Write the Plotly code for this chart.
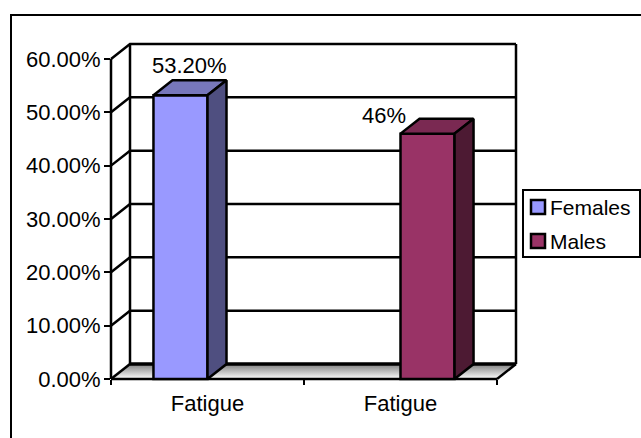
import plotly.graph_objects as go

categories = ["Fatigue", "Fatigue"]
series_names = ["Females", "Males"]
females = [53.2, None]
males = [None, 46.0]
female_labels = ["53.20%", ""]
male_labels = ["", "46%"]
y_ticks = [0, 10, 20, 30, 40, 50, 60]
y_tick_labels = ["0.00%", "10.00%", "20.00%", "30.00%", "40.00%", "50.00%", "60.00%"]

FEMALE_COLOR = "#9999FF"
MALE_COLOR = "#993366"

DX = 19 / 193
DY = 15 / 53.5 * 10
BAR_W = 0.28
FONT = "Liberation Sans, Arial, sans-serif"
FS = 22
LW = 2.5
X0, X1 = -0.5, 1.5
YMAX = y_ticks[-1]

L, R, T, B = 111, 516, 44, 379
W, H = 641, 438
PAD = 6  # room so that lines on the plot edge are not clipped
L0, R0, T0, B0 = L - PAD, R + PAD, T - PAD, B + PAD
px_x = lambda p: (p - L0) / (R0 - L0)
px_y = lambda p: (B0 - p) / (B0 - T0)

xrange_ = [X0, X1 + DX]
yrange_ = [0, YMAX + DY]
ux = (xrange_[1] - xrange_[0]) / (R - L) * PAD
uy = (yrange_[1] - yrange_[0]) / (B - T) * PAD
xpad = [xrange_[0] - ux, xrange_[1] + ux]
ypad = [yrange_[0] - uy, yrange_[1] + uy]

fig = go.Figure()

# carrier for the tick-bearing axes
fig.add_trace(go.Scatter(x=[0, 1], y=y_ticks[:2], mode="markers", marker=dict(opacity=0), showlegend=False,
                         hoverinfo="skip"))


def line(xs, ys, width=LW):
    fig.add_trace(go.Scatter(x=xs, y=ys, mode="lines", line=dict(color="black", width=width),
                             showlegend=False, hoverinfo="skip", cliponaxis=False, xaxis="x2", yaxis="y2"))


# floor with gradient
fig.add_trace(go.Scatter(x=[X0, X1, X1 + DX, X0 + DX, X0], y=[0, 0, DY, DY, 0], mode="none",
                         fill="toself", showlegend=False, hoverinfo="skip", xaxis="x2", yaxis="y2",
                         fillgradient=dict(type="vertical",
                                           colorscale=[[0, "#ffffff"], [1, "#7f7f7f"]])))
# gridlines: side wall and back wall
for t in y_ticks[1:]:
    line([X0, X0 + DX, X1 + DX], [t, t + DY, t + DY])
# walls and floor outline
line([X0 + DX, X0 + DX], [DY, YMAX + DY])
line([X1 + DX, X1 + DX], [DY, YMAX + DY])
line([X0 + DX, X1 + DX], [DY, DY], width=3.5)
line([X0, X0 + DX], [0, DY])
line([X1, X1 + DX], [0, DY])
line([X0, X1], [0, 0])
line([X0, X0], [0, YMAX])

# front faces
fig.add_trace(go.Bar(name=series_names[0], x=[0, 1], y=females,
                     marker=dict(color=FEMALE_COLOR, line=dict(color="black", width=LW)),
                     xaxis="x3", yaxis="y3", showlegend=False, hoverinfo="skip"))
fig.add_trace(go.Bar(name=series_names[1], x=[0, 1], y=males,
                     marker=dict(color=MALE_COLOR, line=dict(color="black", width=LW)),
                     xaxis="x3", yaxis="y3", showlegend=False, hoverinfo="skip"))


def depth(x_left, value, top, side):
    x_right = x_left + BAR_W
    fig.add_trace(go.Scatter(x=[x_left, x_right, x_right + DX, x_left + DX, x_left],
                             y=[value, value, value + DY, value + DY, value],
                             mode="lines", fill="toself", fillcolor=top, line=dict(color="black", width=LW),
                             showlegend=False, hoverinfo="skip", xaxis="x3", yaxis="y3"))
    fig.add_trace(go.Scatter(x=[x_right, x_right + DX, x_right + DX, x_right, x_right],
                             y=[0, DY, value + DY, value, 0],
                             mode="lines", fill="toself", fillcolor=side, line=dict(color="black", width=LW),
                             showlegend=False, hoverinfo="skip", xaxis="x3", yaxis="y3"))


depth(0 - BAR_W, females[0], "#7777BB", "#4F4F80")
depth(1, males[1], "#7A2952", "#4D1A33")

# data labels
fig.add_annotation(x=0 - BAR_W / 2, y=females[0], xref="x3", yref="y3", text=female_labels[0], showarrow=False,
                   xshift=9, yshift=30, font=dict(family=FONT, size=FS, color="black"))
fig.add_annotation(x=1 + BAR_W / 2, y=males[1], xref="x3", yref="y3", text=male_labels[1], showarrow=False,
                   xshift=-44, yshift=18, font=dict(family=FONT, size=FS, color="black"))

# outer frame (runs off the right and bottom of the picture)
fig.add_shape(type="rect", xref="paper", yref="paper", x0=px_x(11), x1=px_x(700), y0=px_y(500), y1=px_y(15),
              line=dict(color="black", width=2), fillcolor="rgba(0,0,0,0)", layer="below")

# legend box, swatches and names
fig.add_shape(type="rect", xref="paper", yref="paper", x0=px_x(523), x1=px_x(640), y0=px_y(257), y1=px_y(190),
              line=dict(color="black", width=2), fillcolor="white")
for name, color, top, bottom in [(series_names[0], FEMALE_COLOR, 200, 214), (series_names[1], MALE_COLOR, 234, 248)]:
    fig.add_shape(type="rect", xref="paper", yref="paper", x0=px_x(531), x1=px_x(545), y0=px_y(bottom), y1=px_y(top),
                  line=dict(color="black", width=2.5), fillcolor=color)
    fig.add_annotation(xref="paper", yref="paper", x=px_x(548), y=px_y((top + bottom) / 2), xanchor="left",
                       yanchor="middle", text=name, showarrow=False, font=dict(family=FONT, size=FS - 1, color="black"))

fig.update_layout(
    width=W, height=H, autosize=False, showlegend=False,
    margin=dict(l=L0, r=W - R0, t=T0, b=H - B0, pad=0, autoexpand=False),
    paper_bgcolor="white", plot_bgcolor="rgba(0,0,0,0)",
    font=dict(family=FONT, size=FS, color="black"),
    barmode="group", bargap=1 - 2 * BAR_W, bargroupgap=0,
    xaxis=dict(range=xrange_, domain=[px_x(L), px_x(R)], anchor="y", tickmode="array", tickvals=[0, 1],
               ticktext=categories, ticks="", ticklabelstandoff=9, showgrid=False, zeroline=False, showline=False,
               tickfont=dict(family=FONT, size=FS),
               minor=dict(tickmode="array", tickvals=[X0, 0.5, X1], ticks="outside", ticklen=5, tickwidth=2,
                          tickcolor="black", showgrid=False)),
    yaxis=dict(range=yrange_, domain=[px_y(B), px_y(T)], anchor="x", tickmode="array", tickvals=y_ticks,
               ticktext=y_tick_labels, ticks="outside", ticklen=6, tickwidth=2, tickcolor="black", showgrid=False,
               zeroline=False, showline=False, ticklabelstandoff=-1, tickfont=dict(family=FONT, size=FS)),
    xaxis2=dict(range=xpad, domain=[0, 1], anchor="y2", visible=False),
    yaxis2=dict(range=ypad, domain=[0, 1], anchor="x2", visible=False),
    xaxis3=dict(range=xpad, overlaying="x2", anchor="y3", visible=False),
    yaxis3=dict(range=ypad, overlaying="y2", anchor="x3", visible=False),
)

fig.write_html("out.html", config={"displayModeBar": False},
               post_script="document.body.style.margin='0';document.documentElement.style.overflow='hidden';")
